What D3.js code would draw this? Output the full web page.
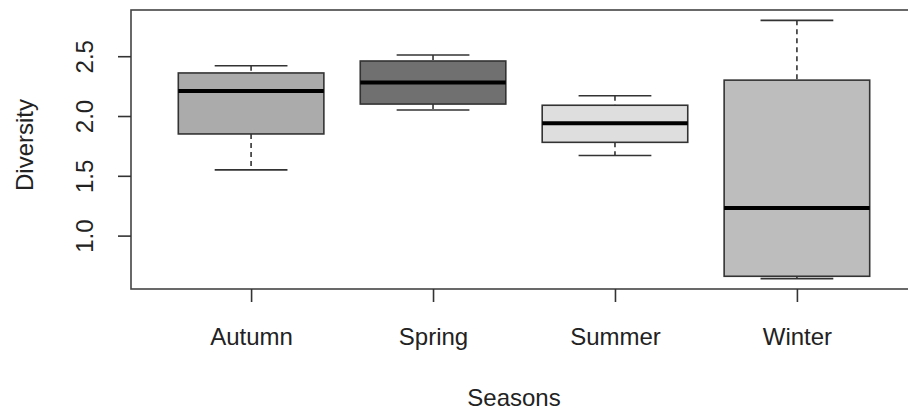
<!DOCTYPE html>
<html lang="en">
<head>
    <meta charset="UTF-8">
    <title>Diversity by season</title>
    <script src="https://d3js.org/d3.v7.min.js"></script>
    <style>
        body { margin: 0; background: #fff; }
        text { font-family: "Liberation Sans", Arial, sans-serif; fill: #222; }
    </style>
</head>
<body>
    <script>

    // box statistics
    const seasons = ["Autumn", "Spring", "Summer", "Winter"]
    const lowerWhisker = [1.55, 2.05, 1.67, 0.64]
    const lowerQuartile = [1.85, 2.10, 1.78, 0.66]
    const medians = [2.21, 2.28, 1.94, 1.23]
    const upperQuartile = [2.36, 2.46, 2.09, 2.30]
    const upperWhisker = [2.42, 2.51, 2.17, 2.80]
    const yTicks = [1.0, 1.5, 2.0, 2.5]
    const fills = ["#ababab", "#707070", "#dedede", "#bdbdbd"]

    const W = 908, H = 412
    const plotLeft = 131, plotTop = 10, plotRight = 917, plotBottom = 289

    var canvas = d3.select("body")
        .append("svg")
        .attr("width", W)
        .attr("height", H)

    // R style limits: groups at 1..n, 4% padding
    var xlo = 0.5, xhi = seasons.length + 0.5
    var xpad = (xhi - xlo) * 0.04
    var x = d3.scaleLinear().domain([xlo - xpad, xhi + xpad]).range([plotLeft, plotRight])

    var ymin = d3.min(lowerWhisker), ymax = d3.max(upperWhisker)
    var ypad = (ymax - ymin) * 0.04
    var y = d3.scaleLinear().domain([ymin - ypad, ymax + ypad]).range([plotBottom, plotTop])

    var boxW = (x(2) - x(1)) * 0.8

    var data = seasons.map((s, i) => ({
        name: s, pos: i + 1,
        lw: lowerWhisker[i], q1: lowerQuartile[i], med: medians[i],
        q3: upperQuartile[i], uw: upperWhisker[i], fill: fills[i]
    }))

    var boxes = canvas.selectAll(".box")
        .data(data)
        .enter()
        .append("g")
        .attr("class", "box")

    // dashed whiskers
    boxes.append("line")
        .attr("x1", d => x(d.pos)).attr("x2", d => x(d.pos))
        .attr("y1", d => y(d.uw)).attr("y2", d => y(d.q3))
        .attr("stroke", "#333").attr("stroke-width", 1.6)
        .attr("stroke-dasharray", "5,4")
    boxes.append("line")
        .attr("x1", d => x(d.pos)).attr("x2", d => x(d.pos))
        .attr("y1", d => y(d.q1)).attr("y2", d => y(d.lw))
        .attr("stroke", "#333").attr("stroke-width", 1.6)
        .attr("stroke-dasharray", "5,4")

    // staples
    boxes.append("line")
        .attr("x1", d => x(d.pos) - boxW / 4).attr("x2", d => x(d.pos) + boxW / 4)
        .attr("y1", d => y(d.uw)).attr("y2", d => y(d.uw))
        .attr("stroke", "#333").attr("stroke-width", 1.6)
    boxes.append("line")
        .attr("x1", d => x(d.pos) - boxW / 4).attr("x2", d => x(d.pos) + boxW / 4)
        .attr("y1", d => y(d.lw)).attr("y2", d => y(d.lw))
        .attr("stroke", "#333").attr("stroke-width", 1.6)

    boxes.append("rect")
        .attr("x", d => x(d.pos) - boxW / 2)
        .attr("width", boxW)
        .attr("y", d => y(d.q3))
        .attr("height", d => y(d.q1) - y(d.q3))
        .attr("fill", d => d.fill)
        .attr("stroke", "#333")
        .attr("stroke-width", 1.6)

    boxes.append("line")
        .attr("x1", d => x(d.pos) - boxW / 2).attr("x2", d => x(d.pos) + boxW / 2)
        .attr("y1", d => y(d.med)).attr("y2", d => y(d.med))
        .attr("stroke", "#000").attr("stroke-width", 4)

    // frame
    canvas.append("rect")
        .attr("x", plotLeft).attr("y", plotTop)
        .attr("width", plotRight - plotLeft).attr("height", plotBottom - plotTop)
        .attr("fill", "none").attr("stroke", "#444").attr("stroke-width", 1.6)

    // y axis
    var yAxis = canvas.append("g")
        .attr("transform", "translate(" + plotLeft + ",0)")
        .call(d3.axisLeft(y).tickValues(yTicks).tickSize(13).tickFormat(d3.format(".1f")))
    yAxis.select(".domain").remove()
    yAxis.selectAll("line").attr("stroke", "#333").attr("stroke-width", 1.6)
    yAxis.selectAll("text")
        .attr("x", 0).attr("y", 0).attr("dy", null)
        .attr("transform", "translate(-38,0) rotate(-90)")
        .attr("text-anchor", "middle")
        .style("font-size", "24px")
        .style("font-family", null)

    // x axis
    var xAxis = canvas.append("g")
        .attr("transform", "translate(0," + plotBottom + ")")
        .call(d3.axisBottom(x).tickValues(data.map(d => d.pos)).tickSize(13)
            .tickFormat((d, i) => seasons[i]))
    xAxis.select(".domain").remove()
    xAxis.selectAll("line").attr("stroke", "#333").attr("stroke-width", 1.6)
    xAxis.selectAll("text")
        .attr("y", 56).attr("dy", null)
        .style("font-size", "24px")
        .style("font-family", null)

    // axis titles
    canvas.append("text")
        .attr("x", (plotLeft + plotRight) / 2 - 10)
        .attr("y", 406)
        .attr("text-anchor", "middle")
        .style("font-size", "24px")
        .text("Seasons")

    canvas.append("text")
        .attr("transform", "translate(33,145) rotate(-90)")
        .attr("text-anchor", "middle")
        .style("font-size", "24px")
        .text("Diversity")

    </script>
</body>
</html>
